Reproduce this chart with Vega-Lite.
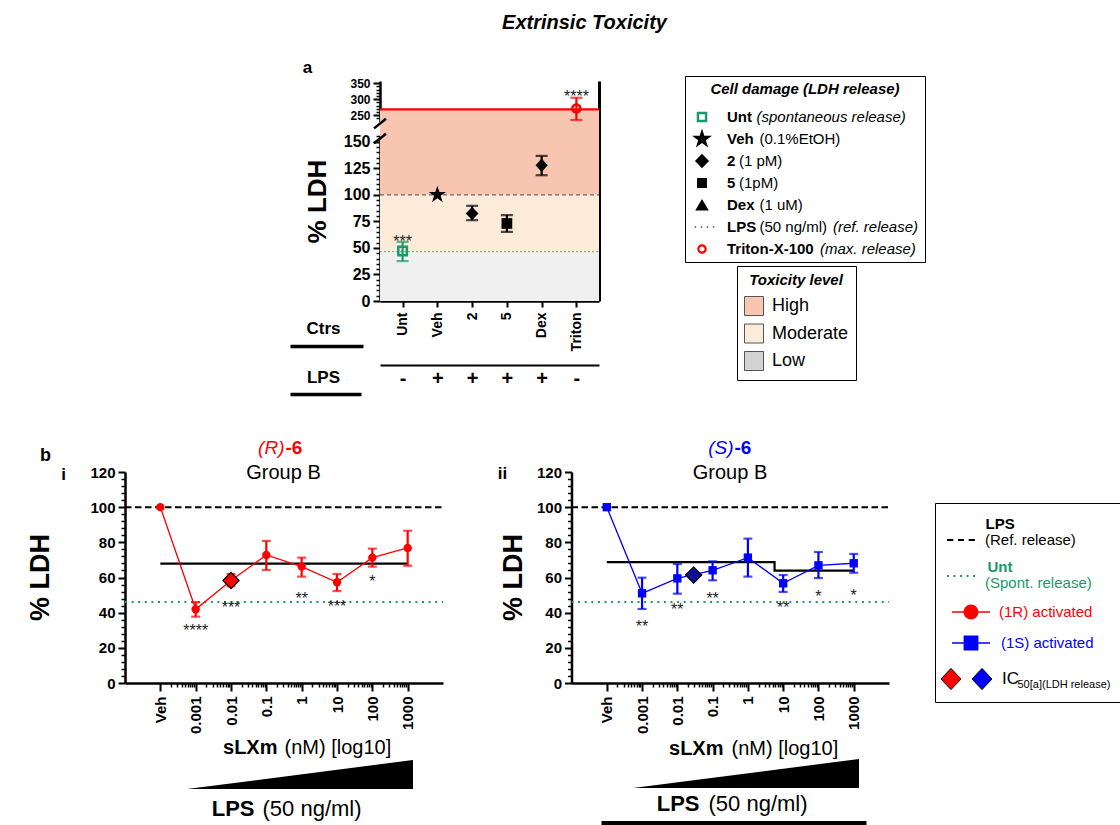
{
"$schema":"https://vega.github.io/schema/vega-lite/v6.json",
"width":1120,"height":825,"autosize":"none","padding":0,"background":"white",
"config":{"font":"Liberation Sans","view":{"stroke":null},
 "axis":{"grid":false,"domainColor":"#000","tickColor":"#000","labelColor":"#000","titleColor":"#000","labelFont":"Liberation Sans","titleFont":"Liberation Sans"},
 "legend":{"labelFont":"Liberation Sans","titleFont":"Liberation Sans","labelColor":"#000","titleColor":"#000","labelLimit":500,"titleLimit":500}},
"datasets":{
 "one":[{}],
 "bandsA":[{"level":"Low","lo":0,"hi":46.4},{"level":"Moderate","lo":46.4,"hi":100},{"level":"High","lo":100,"hi":268.2}],
 "panelA":[{"cat":"Unt","mean":47,"lo":37.6,"hi":55.7,"sig":"***","sigY":64},{"cat":"Veh","mean":100},{"cat":"2","mean":82.4,"lo":76.1,"hi":89.6},{"cat":"5","mean":73,"lo":65.1,"hi":80.8},{"cat":"Dex","mean":127.8,"lo":118.4,"hi":136.6}],
 "triton":[{"cat":"Triton","mean":271,"lo":234.6,"hi":304.5,"sig":"****","sigY":335}],
 "rs6":[{"conc":0.0001,"mean":100},{"conc":0.001,"mean":41.9,"lo":37.7,"hi":46.0,"sig":"****","sigY":34.7},{"conc":0.01,"mean":58.3,"lo":55.0,"hi":62.0,"sig":"***","sigY":48.0},{"conc":0.1,"mean":72.8,"lo":64.3,"hi":80.8},{"conc":1,"mean":66.2,"lo":60.5,"hi":71.3,"sig":"**","sigY":53.0},{"conc":10,"mean":57.3,"lo":52.3,"hi":62.0,"sig":"***","sigY":48.4},{"conc":100,"mean":71.3,"lo":66.2,"hi":76.4,"sig":"*","sigY":62.5},{"conc":1000,"mean":76.8,"lo":66.7,"hi":86.6}],
 "ss6":[{"conc":0.0001,"mean":100},{"conc":0.001,"mean":51.0,"lo":42.1,"hi":59.9,"sig":"**","sigY":36.8},{"conc":0.01,"mean":59.5,"lo":50.8,"hi":67.7,"sig":"**","sigY":46.8},{"conc":0.1,"mean":64.1,"lo":58.4,"hi":69.2,"sig":"**","sigY":52.9},{"conc":1,"mean":71.3,"lo":60.5,"hi":82.1},{"conc":10,"mean":56.7,"lo":51.8,"hi":61.4,"sig":"**","sigY":47.8},{"conc":100,"mean":66.9,"lo":59.7,"hi":74.5,"sig":"*","sigY":53.9},{"conc":1000,"mean":68.1,"lo":62.7,"hi":73.4,"sig":"*","sigY":54.8}],
 "fitR":[{"i":1,"conc":0.0001,"fit":67.9},{"i":2,"conc":1000,"fit":67.9}],
 "fitS":[{"i":1,"conc":0.0001,"fit":68.8},{"i":2,"conc":5.7,"fit":68.8},{"i":3,"conc":5.7,"fit":63.9},{"i":4,"conc":1000,"fit":63.9}],
 "icR":[{"conc":0.01,"ic":58.3}],
 "icS":[{"conc":0.029,"ic":61.4}],
 "wedge":[{"lps":0},{"lps":1}],
 "leg1":[{"entry":"Unt"},{"entry":"Veh"},{"entry":"2"},{"entry":"5"},{"entry":"Dex"},{"entry":"LPS"},{"entry":"Triton-X-100"}],
 "leg2":[{"level":"High"},{"level":"Moderate"},{"level":"Low"}]
},
"layer":[
 {"data":{"name":"bandsA"},"layer":[
  {"mark":{"type":"rect"},"encoding":{
    "x":{"datum":0,"type":"quantitative","scale":{"domain":[0,1],"range":[380,599],"nice":false,"zero":false},"axis":null},
    "x2":{"datum":1},
    "y":{"field":"lo","type":"quantitative","scale":{"domain":[0,156,230,357],"range":[301,135.3,121.5,81],"nice":false,"zero":false},"axis":null},
    "y2":{"field":"hi"},
    "fill":{"field":"level","type":"nominal","scale":{"domain":["High","Moderate","Low"],"range":["#f8c5b1","#fdebd9","#f0f0f0"]},"legend":null}}},
  {"data":{"name":"one"},"mark":{"type":"rule","color":"#666666","strokeWidth":1.2,"strokeDash":[4,3]},"encoding":{"x":{"datum":0,"type":"quantitative","axis":null},"x2":{"datum":1},"y":{"datum":100,"type":"quantitative","axis":null}}},
  {"data":{"name":"one"},"mark":{"type":"rule","color":"#79c279","strokeWidth":1.3,"strokeDash":[2,2]},"encoding":{"x":{"datum":0,"type":"quantitative","axis":null},"x2":{"datum":1},"y":{"datum":46.4,"type":"quantitative","axis":null}}},
  {"data":{"name":"one"},"mark":{"type":"rule","color":"#ff0000","strokeWidth":2.2},"encoding":{"x":{"datum":0,"type":"quantitative","axis":null},"x2":{"datum":1},"y":{"datum":268.2,"type":"quantitative","axis":null}}},
  {"data":{"name":"one"},"mark":{"type":"point","shape":"M-1,0.8L1,-0.8","size":144,"filled":false,"color":"#000","strokeWidth":2.5,"opacity":1},"encoding":{"x":{"datum":0,"type":"quantitative","axis":null},"y":{"datum":219,"type":"quantitative","axis":null}}},
  {"data":{"name":"one"},"mark":{"type":"point","shape":"M-1,0.8L1,-0.8","size":144,"filled":false,"color":"#000","strokeWidth":2.5,"opacity":1},"encoding":{"x":{"datum":0,"type":"quantitative","axis":null},"y":{"datum":153,"type":"quantitative","axis":null}}}
 ]},
 {"data":{"name":"one"},"mark":{"type":"point","opacity":0},"encoding":{"y":{"datum":0,"type":"quantitative","scale":{"domain":[0,1],"range":[301,81]},"axis":{"orient":"right","offset":-521,"domainWidth":3,"ticks":false,"labels":false,"title":null}}}},
 {"data":{"name":"panelA"},"layer":[
  {"mark":{"type":"rule","strokeWidth":2.2},"encoding":{
    "x":{"field":"cat","type":"nominal","scale":{"type":"point","domain":["Unt","Veh","2","5","Dex","Triton"],"range":[380,599],"padding":0.65},"axis":null},
    "y":{"field":"lo","type":"quantitative","scale":{"domain":[0,156],"range":[301,135.3],"nice":false,"zero":false},"axis":null},
    "y2":{"field":"hi"},
    "color":{"field":"cat","type":"nominal","scale":{"domain":["Unt","Veh","2","5","Dex"],"range":["#1a9a6c","#000000","#000000","#000000","#000000"]},"legend":null}}},
  {"mark":{"type":"tick","orient":"horizontal","size":12,"thickness":2.2},"encoding":{"x":{"field":"cat","type":"nominal","axis":null},"y":{"field":"hi","type":"quantitative","axis":null},"color":{"field":"cat","type":"nominal","legend":null}}},
  {"mark":{"type":"tick","orient":"horizontal","size":12,"thickness":2.2},"encoding":{"x":{"field":"cat","type":"nominal","axis":null},"y":{"field":"lo","type":"quantitative","axis":null},"color":{"field":"cat","type":"nominal","legend":null}}},
  {"mark":{"type":"point","filled":true,"size":625,"opacity":1},"encoding":{"x":{"field":"cat","type":"nominal","axis":null},"y":{"field":"mean","type":"quantitative","axis":null},
    "shape":{"field":"cat","type":"nominal","scale":{"domain":["Unt","Veh","2","5","Dex"],"range":["M-0.44,-0.44H0.44V0.44H-0.44Z M-0.24,-0.24V0.24H0.24V-0.24Z","M0,-0.73L0.164,-0.226L0.694,-0.226L0.265,0.086L0.429,0.591L0,0.279L-0.429,0.591L-0.265,0.086L-0.694,-0.226L-0.164,-0.226Z","M0,-0.54L0.5,0L0,0.54L-0.5,0Z","M-0.43,-0.43H0.43V0.43H-0.43Z","M0,-0.54L0.48,0L0,0.54L-0.48,0Z"]},"legend":null},
    "fill":{"field":"cat","type":"nominal","scale":{"domain":["Unt","Veh","2","5","Dex"],"range":["#1a9a6c","#000000","#000000","#000000","#000000"]},"legend":null}}},
  {"mark":{"type":"text","fontSize":16,"dy":9,"color":"#222222"},"encoding":{"x":{"field":"cat","type":"nominal","axis":null},"y":{"field":"sigY","type":"quantitative","axis":null},"text":{"field":"sig"}}}
 ]},
 {"data":{"name":"triton"},"layer":[
  {"mark":{"type":"rule","strokeWidth":2.2,"color":"#ff0000"},"encoding":{
    "x":{"field":"cat","type":"nominal","scale":{"type":"point","domain":["Unt","Veh","2","5","Dex","Triton"],"range":[380,599],"padding":0.65},"axis":null},
    "y":{"field":"lo","type":"quantitative","scale":{"domain":[230,357],"range":[121.5,81],"nice":false,"zero":false},"axis":null},
    "y2":{"field":"hi"}}},
  {"mark":{"type":"tick","orient":"horizontal","size":12,"thickness":2.2,"color":"#ff0000"},"encoding":{"x":{"field":"cat","type":"nominal","axis":null},"y":{"field":"hi","type":"quantitative","axis":null}}},
  {"mark":{"type":"tick","orient":"horizontal","size":12,"thickness":2.2,"color":"#ff0000"},"encoding":{"x":{"field":"cat","type":"nominal","axis":null},"y":{"field":"lo","type":"quantitative","axis":null}}},
  {"mark":{"type":"point","filled":true,"size":625,"opacity":1,"color":"#ff0000","shape":"M-0.42,0A0.42,0.42 0 1,1 0.42,0A0.42,0.42 0 1,1 -0.42,0Z M-0.22,0A0.22,0.22 0 1,0 0.22,0A0.22,0.22 0 1,0 -0.22,0Z"},"encoding":{"x":{"field":"cat","type":"nominal","axis":null},"y":{"field":"mean","type":"quantitative","axis":null}}},
  {"mark":{"type":"text","fontSize":16,"dy":9,"color":"#222222"},"encoding":{"x":{"field":"cat","type":"nominal","axis":null},"y":{"field":"sigY","type":"quantitative","axis":null},"text":{"field":"sig"}}}
 ]},
 {"data":{"name":"one"},"mark":{"type":"point","opacity":0},"encoding":{
   "x":{"datum":"Unt","type":"nominal","scale":{"type":"point","domain":["Unt","Veh","2","5","Dex","Triton"],"range":[380,599],"padding":0.65},"axis":{"orient":"bottom","offset":-524,"tickSize":6,"tickWidth":2,"domainWidth":2.5,"labelAngle":-90,"labelFontSize":14,"labelFontWeight":"bold","labelPadding":5,"title":"Ctrs","titleX":323,"titleY":27,"titleAngle":0,"titleAlign":"center","titleBaseline":"middle","titleFontSize":17,"titleFontWeight":"bold"}},
   "y":{"datum":0,"type":"quantitative","scale":{"domain":[0,156],"range":[301,135.3],"nice":false,"zero":false},"axis":{"orient":"left","offset":-380,"values":[0,25,50,75,100,125,150],"tickSize":7,"tickWidth":2,"domainWidth":2.5,"labelFontSize":16,"labelFontWeight":"bold","labelPadding":3,"title":"% LDH","titleX":-63,"titleY":201,"titleAngle":-90,"titleAlign":"center","titleBaseline":"middle","titleFontSize":26,"titleFontWeight":"bold"}}}},
 {"data":{"name":"one"},"mark":{"type":"point","opacity":0},"encoding":{
   "x":{"datum":"Unt","type":"nominal","scale":{"type":"point","domain":["Unt","Veh","2","5","Dex","Triton"],"range":[380,599],"padding":0.65},"axis":{"orient":"bottom","offset":-460,"ticks":false,"domainWidth":2,"labelAngle":0,"labelFontSize":20,"labelFontWeight":"bold","labelPadding":3,"labelExpr":"datum.value == 'Unt' || datum.value == 'Triton' ? '-' : '+'","title":"LPS","titleX":323,"titleY":12,"titleAngle":0,"titleAlign":"center","titleBaseline":"middle","titleFontSize":17,"titleFontWeight":"bold"}},
   "y":{"datum":250,"type":"quantitative","scale":{"domain":[230,357],"range":[121.5,81],"nice":false,"zero":false},"axis":{"orient":"left","offset":-380,"values":[250,300,350],"tickSize":7,"tickWidth":2,"domainWidth":2.5,"labelFontSize":12,"labelFontWeight":"bold","labelPadding":3,"title":"a","titleX":-73,"titleY":67,"titleAngle":0,"titleAlign":"center","titleBaseline":"middle","titleFontSize":17,"titleFontWeight":"bold"}}}},
 {"data":{"name":"one"},"mark":{"type":"point","opacity":0},"encoding":{"y":{"datum":0,"type":"quantitative","scale":{"domain":[0,156],"range":[301,135.3],"nice":false,"zero":false},"axis":{"orient":"left","offset":-380,"values":[5,10,15,20,30,35,40,45,55,60,65,70,80,85,90,95,105,110,115,120,130,135,140,145,155],"tickSize":4,"tickWidth":1.5,"domain":false,"labels":false,"title":"b","titleX":-335,"titleY":455,"titleAngle":0,"titleAlign":"center","titleBaseline":"middle","titleFontSize":18,"titleFontWeight":"bold"}}}},
 {"data":{"name":"one"},"mark":{"type":"point","opacity":0},"encoding":{"y":{"datum":250,"type":"quantitative","scale":{"domain":[230,357],"range":[121.5,81],"nice":false,"zero":false},"axis":{"orient":"left","offset":-380,"values":[240,260,270,280,290,310,320,330,340],"tickSize":4,"tickWidth":1.5,"domain":false,"labels":false,"title":"Extrinsic Toxicity","titleX":204,"titleY":22,"titleAngle":0,"titleAlign":"center","titleBaseline":"middle","titleFontSize":20,"titleFontWeight":"bold","titleFontStyle":"italic"}}}},
 {"data":{"name":"one"},"mark":{"type":"point","opacity":0},"encoding":{"x":{"datum":0,"type":"quantitative","scale":{"domain":[0,1],"range":[290,363]},"axis":{"orient":"top","offset":-346,"domainWidth":3.5,"ticks":false,"labels":false,"title":null}}}},
 {"data":{"name":"one"},"mark":{"type":"point","opacity":0},"encoding":{"x":{"datum":0,"type":"quantitative","scale":{"domain":[0,1],"range":[290,361]},"axis":{"orient":"top","offset":-394,"domainWidth":3.5,"ticks":false,"labels":false,"title":null}}}},
 {"data":{"values":[{"k":"\u200b"}]},"mark":{"type":"point","filled":true,"opacity":0,"fill":"#ffffff"},"encoding":{
   "shape":{"field":"k","type":"nominal","scale":{"domain":["\u200b"],"range":["M0,0"]},
     "legend":{"orient":"none","legendX":685,"legendY":76,"padding":6,"strokeColor":"#000","title":"Cell damage (LDH release)","titleFontSize":15,"titleFontWeight":"bold","titleFontStyle":"italic","titleAnchor":"middle","titlePadding":9,"labelFontSize":1,"labelOffset":0,"symbolSize":51984,"symbolStrokeWidth":0,"symbolOpacity":0,"clipHeight":150}}}},
 {"data":{"name":"leg1"},"mark":{"type":"point","filled":true,"opacity":0},"encoding":{
   "shape":{"field":"entry","type":"nominal","scale":{"domain":["Unt","Veh","2","5","Dex","LPS","Triton-X-100"],"range":["M-0.48,-0.48H0.48V0.48H-0.48Z M-0.26,-0.26V0.26H0.26V-0.26Z","M0,-0.95L0.213,-0.294L0.904,-0.294L0.345,0.112L0.558,0.769L0,0.363L-0.558,0.769L-0.345,0.112L-0.904,-0.294L-0.213,-0.294Z","M0,-0.66L0.64,0L0,0.66L-0.64,0Z","M-0.45,-0.45H0.45V0.45H-0.45Z","M0,-0.55L0.62,0.5L-0.62,0.5Z","M-1.22,-0.07h0.14v0.14h-0.14Z M-0.67,-0.07h0.14v0.14h-0.14Z M-0.12,-0.07h0.14v0.14h-0.14Z M0.43,-0.07h0.14v0.14h-0.14Z M0.98,-0.07h0.14v0.14h-0.14Z","M-0.43,0A0.43,0.43 0 1,1 0.43,0A0.43,0.43 0 1,1 -0.43,0Z M-0.23,0A0.23,0.23 0 1,0 0.23,0A0.23,0.23 0 1,0 -0.23,0Z"]},
     "legend":{"orient":"none","legendX":691,"legendY":106.25,"padding":0,"title":null,"labelFontSize":15,"labelFontWeight":"bold","labelOffset":14,"symbolSize":484,"symbolStrokeWidth":0,"symbolOpacity":1,"clipHeight":21.5,"rowPadding":0}},
   "fill":{"field":"entry","type":"nominal","scale":{"domain":["Unt","Veh","2","5","Dex","LPS","Triton-X-100"],"range":["#1a9a6c","#000000","#000000","#000000","#000000","#555555","#ff0000"]},
     "legend":{"orient":"none","legendX":691,"legendY":106.25,"padding":0,"title":null,"labelFontSize":15,"labelFontWeight":"bold","labelOffset":14,"symbolSize":484,"symbolStrokeWidth":0,"symbolOpacity":1,"clipHeight":21.5,"rowPadding":0}}}},
 {"data":{"values":[{"entry":"Veh"}]},"mark":{"type":"point","filled":true,"opacity":0},"encoding":{
   "shape":{"field":"entry","type":"nominal","scale":{"domain":["Veh"],"range":["M0,0"]},
     "legend":{"orient":"none","legendX":723.5,"legendY":128.25,"padding":0,"title":null,"labelFontSize":15,"labelOffset":14,"symbolSize":484,"symbolStrokeWidth":0,"symbolOpacity":0,"clipHeight":21.5,"rowPadding":0,"labelExpr":"'(0.1%EtOH)'"}}}},
 {"data":{"values":[{"entry":"2"},{"entry":"5"}]},"mark":{"type":"point","filled":true,"opacity":0},"encoding":{
   "shape":{"field":"entry","type":"nominal","scale":{"domain":["2","5"],"range":["M0,0","M0,0"]},
     "legend":{"orient":"none","legendX":703,"legendY":150.25,"padding":0,"title":null,"labelFontSize":15,"labelOffset":14,"symbolSize":484,"symbolStrokeWidth":0,"symbolOpacity":0,"clipHeight":21.5,"rowPadding":0,"labelExpr":"datum.label == '2' ? '(1 pM)' : '(1pM)'"}}}},
 {"data":{"values":[{"entry":"Dex"},{"entry":"LPS"}]},"mark":{"type":"point","filled":true,"opacity":0},"encoding":{
   "shape":{"field":"entry","type":"nominal","scale":{"domain":["Dex","LPS"],"range":["M0,0","M0,0"]},
     "legend":{"orient":"none","legendX":723.5,"legendY":194.25,"padding":0,"title":null,"labelFontSize":15,"labelOffset":14,"symbolSize":484,"symbolStrokeWidth":0,"symbolOpacity":0,"clipHeight":21.5,"rowPadding":0,"labelExpr":"datum.label == 'Dex' ? '(1 uM)' : '(50 ng/ml)'"}}}},
 {"data":{"values":[{"entry":"Unt"}]},"mark":{"type":"point","filled":true,"opacity":0},"encoding":{
   "shape":{"field":"entry","type":"nominal","scale":{"domain":["Unt"],"range":["M0,0"]},
     "legend":{"orient":"none","legendX":720.5,"legendY":106.25,"padding":0,"title":null,"labelFontSize":15,"labelFontStyle":"italic","labelOffset":14,"symbolSize":484,"symbolStrokeWidth":0,"symbolOpacity":0,"clipHeight":21.5,"rowPadding":0,"labelExpr":"'(spontaneous release)'"}}}},
 {"data":{"values":[{"entry":"LPS"}]},"mark":{"type":"point","filled":true,"opacity":0},"encoding":{
   "shape":{"field":"entry","type":"nominal","scale":{"domain":["LPS"],"range":["M0,0"]},
     "legend":{"orient":"none","legendX":797,"legendY":216.25,"padding":0,"title":null,"labelFontSize":15,"labelFontStyle":"italic","labelOffset":14,"symbolSize":484,"symbolStrokeWidth":0,"symbolOpacity":0,"clipHeight":21.5,"rowPadding":0,"labelExpr":"'(ref. release)'"}}}},
 {"data":{"values":[{"entry":"Triton-X-100"}]},"mark":{"type":"point","filled":true,"opacity":0},"encoding":{
   "shape":{"field":"entry","type":"nominal","scale":{"domain":["Triton-X-100"],"range":["M0,0"]},
     "legend":{"orient":"none","legendX":784,"legendY":238.25,"padding":0,"title":null,"labelFontSize":15,"labelFontStyle":"italic","labelOffset":14,"symbolSize":484,"symbolStrokeWidth":0,"symbolOpacity":0,"clipHeight":21.5,"rowPadding":0,"labelExpr":"'(max. release)'"}}}},
 {"data":{"name":"leg2"},"mark":{"type":"point","filled":true,"opacity":0},"encoding":{
   "fill":{"field":"level","type":"nominal","scale":{"domain":["High","Moderate","Low"],"range":["#f8c5b1","#fdebd9","#d3d3d3"]},
     "legend":{"orient":"none","legendX":737,"legendY":266,"padding":7,"strokeColor":"#000","title":"Toxicity level","titleFontSize":15,"titleFontWeight":"bold","titleFontStyle":"italic","titleAnchor":"middle","titlePadding":8,"labelFontSize":18,"labelOffset":8,"symbolType":"square","symbolSize":361,"symbolStrokeColor":"#555555","symbolStrokeWidth":1,"symbolOpacity":1,"rowPadding":3.5}}}},
 {"data":{"name":"rs6"},"layer":[
  {"data":{"name":"one"},"mark":{"type":"rule","color":"#000","strokeWidth":2,"strokeDash":[6.5,3.5]},"encoding":{
    "x":{"datum":0.00001,"type":"quantitative","scale":{"type":"log","domain":[0.00001,10000],"range":[125,443],"nice":false},"axis":null},
    "x2":{"datum":10000},
    "y":{"datum":100,"type":"quantitative","scale":{"domain":[0,120],"range":[683,472],"nice":false,"zero":false},"axis":null}}},
  {"data":{"name":"one"},"mark":{"type":"rule","color":"#1a9a6c","strokeWidth":2,"strokeDash":[2,4.6]},"encoding":{"x":{"datum":0.00001,"type":"quantitative","axis":null},"x2":{"datum":10000},"y":{"datum":46,"type":"quantitative","axis":null}}},
  {"data":{"name":"fitR"},"mark":{"type":"line","color":"#000","strokeWidth":2.2},"encoding":{"x":{"field":"conc","type":"quantitative","axis":null},"y":{"field":"fit","type":"quantitative","axis":null},"order":{"field":"i","type":"quantitative"}}},
  {"mark":{"type":"line","color":"#ff0000","strokeWidth":1.3},"encoding":{"x":{"field":"conc","type":"quantitative","axis":null},"y":{"field":"mean","type":"quantitative","axis":null}}},
  {"mark":{"type":"rule","color":"#ff0000","strokeWidth":2.2},"encoding":{"x":{"field":"conc","type":"quantitative","axis":null},"y":{"field":"lo","type":"quantitative","axis":null},"y2":{"field":"hi"}}},
  {"mark":{"type":"tick","orient":"horizontal","size":9,"thickness":2.2,"color":"#ff0000"},"encoding":{"x":{"field":"conc","type":"quantitative","axis":null},"y":{"field":"hi","type":"quantitative","axis":null}}},
  {"mark":{"type":"tick","orient":"horizontal","size":9,"thickness":2.2,"color":"#ff0000"},"encoding":{"x":{"field":"conc","type":"quantitative","axis":null},"y":{"field":"lo","type":"quantitative","axis":null}}},
  {"mark":{"type":"point","filled":true,"shape":"circle","size":70,"color":"#ff0000","opacity":1},"encoding":{"x":{"field":"conc","type":"quantitative","axis":null},"y":{"field":"mean","type":"quantitative","axis":null}}},
  {"data":{"name":"icR"},"mark":{"type":"point","filled":true,"shape":"diamond","size":260,"fill":"#ff0000","stroke":"#000","strokeWidth":1.2,"opacity":1},"encoding":{"x":{"field":"conc","type":"quantitative","axis":null},"y":{"field":"ic","type":"quantitative","axis":null}}},
  {"mark":{"type":"text","fontSize":16,"dy":9,"color":"#222222"},"encoding":{"x":{"field":"conc","type":"quantitative","axis":null},"y":{"field":"sigY","type":"quantitative","axis":null},"text":{"field":"sig"}}}
 ]},
 {"data":{"name":"one"},"mark":{"type":"point","opacity":0},"encoding":{
   "x":{"datum":1,"type":"quantitative","scale":{"type":"log","domain":[0.00001,10000],"range":[125,443],"nice":false},"axis":{"orient":"bottom","offset":-142,"values":[0.0001,0.001,0.01,0.1,1,10,100,1000],"tickSize":8,"tickWidth":2,"domainWidth":2.5,"labelAngle":-90,"labelFontSize":15,"labelFontWeight":"bold","labelPadding":5,"labelExpr":"datum.value < 0.0005 ? 'Veh' : format(datum.value, '')","title":"sLXm","titleX":277,"titleY":64,"titleAngle":0,"titleAlign":"right","titleBaseline":"middle","titleFontSize":20,"titleFontWeight":"bold"}},
   "y":{"datum":0,"type":"quantitative","scale":{"domain":[0,120],"range":[683,472],"nice":false,"zero":false},"axis":{"orient":"left","offset":-125,"values":[0,20,40,60,80,100,120],"tickSize":7,"tickWidth":2,"domainWidth":2.5,"labelFontSize":15,"labelFontWeight":"bold","labelPadding":3,"title":"% LDH","titleX":-85,"titleY":577,"titleAngle":-90,"titleAlign":"center","titleBaseline":"middle","titleFontSize":27,"titleFontWeight":"bold"}}}},
 {"data":{"name":"one"},"mark":{"type":"point","opacity":0},"encoding":{
   "x":{"datum":1,"type":"quantitative","scale":{"type":"log","domain":[0.00001,10000],"range":[125,443],"nice":false},"axis":{"orient":"bottom","offset":-142,"values":[0.0002,0.0003,0.0004,0.0005,0.0006,0.0007,0.0008,0.0009,0.002,0.003,0.004,0.005,0.006,0.007,0.008,0.009,0.02,0.03,0.04,0.05,0.06,0.07,0.08,0.09,0.2,0.3,0.4,0.5,0.6,0.7,0.8,0.9,2,3,4,5,6,7,8,9,20,30,40,50,60,70,80,90,200,300,400,500,600,700,800,900],"tickSize":4,"tickWidth":1.5,"domain":false,"labels":false,"title":"(nM) [log10]","titleX":284,"titleY":64,"titleAngle":0,"titleAlign":"left","titleBaseline":"middle","titleFontSize":20,"titleFontWeight":"normal"}},
   "y":{"datum":0,"type":"quantitative","scale":{"domain":[0,120],"range":[683,472],"nice":false,"zero":false},"axis":{"orient":"left","offset":-125,"values":[4,8,12,16,24,28,32,36,44,48,52,56,64,68,72,76,84,88,92,96,104,108,112,116],"tickSize":4,"tickWidth":1.5,"domain":false,"labels":false,"title":"i","titleX":-62,"titleY":474,"titleAngle":0,"titleAlign":"center","titleBaseline":"middle","titleFontSize":17,"titleFontWeight":"bold"}}}},
 {"data":{"name":"wedge"},"mark":{"type":"area","color":"#000","opacity":1},"encoding":{
   "x":{"field":"lps","type":"quantitative","scale":{"domain":[0,1],"range":[187,413],"nice":false,"zero":false},"axis":{"orient":"top","offset":0,"domain":false,"ticks":false,"labels":false,"title":"LPS","titleX":254,"titleY":808,"titleAngle":0,"titleAlign":"right","titleBaseline":"middle","titleFontSize":22,"titleFontWeight":"bold"}},
   "y":{"field":"lps","type":"quantitative","scale":{"domain":[0,1],"range":[789,760],"nice":false,"zero":false},"axis":{"orient":"left","offset":0,"domain":false,"ticks":false,"labels":false,"title":"(50 ng/ml)","titleX":262,"titleY":808,"titleAngle":0,"titleAlign":"left","titleBaseline":"middle","titleFontSize":22,"titleFontWeight":"normal"}},
   "y2":{"datum":0}}},
 {"data":{"name":"one"},"mark":{"type":"point","opacity":0},"encoding":{
   "x":{"datum":0,"type":"quantitative","scale":{"domain":[0,1],"range":[0,1]},"axis":{"orient":"top","offset":0,"domain":false,"ticks":false,"labels":false,"title":"(R)","titleX":284,"titleY":447,"titleAngle":0,"titleAlign":"right","titleBaseline":"middle","titleFontSize":19,"titleFontWeight":"normal","titleFontStyle":"italic","titleColor":"#ff0000"}},
   "y":{"datum":0,"type":"quantitative","scale":{"domain":[0,1],"range":[0,1]},"axis":{"orient":"left","offset":0,"domain":false,"ticks":false,"labels":false,"title":"-6","titleX":285,"titleY":447,"titleAngle":0,"titleAlign":"left","titleBaseline":"middle","titleFontSize":19,"titleFontWeight":"bold","titleColor":"#ff0000"}}}},
 {"data":{"name":"ss6"},"layer":[
  {"data":{"name":"one"},"mark":{"type":"rule","color":"#000","strokeWidth":2,"strokeDash":[6.5,3.5]},"encoding":{
    "x":{"datum":0.00001,"type":"quantitative","scale":{"type":"log","domain":[0.00001,10000],"range":[571.5,889],"nice":false},"axis":null},
    "x2":{"datum":10000},
    "y":{"datum":100,"type":"quantitative","scale":{"domain":[0,120],"range":[683,472],"nice":false,"zero":false},"axis":null}}},
  {"data":{"name":"one"},"mark":{"type":"rule","color":"#1a9a6c","strokeWidth":2,"strokeDash":[2,4.6]},"encoding":{"x":{"datum":0.00001,"type":"quantitative","axis":null},"x2":{"datum":10000},"y":{"datum":46,"type":"quantitative","axis":null}}},
  {"data":{"name":"fitS"},"mark":{"type":"line","color":"#000","strokeWidth":2.2},"encoding":{"x":{"field":"conc","type":"quantitative","axis":null},"y":{"field":"fit","type":"quantitative","axis":null},"order":{"field":"i","type":"quantitative"}}},
  {"mark":{"type":"line","color":"#0000ff","strokeWidth":1.3},"encoding":{"x":{"field":"conc","type":"quantitative","axis":null},"y":{"field":"mean","type":"quantitative","axis":null}}},
  {"mark":{"type":"rule","color":"#0000ff","strokeWidth":2.2},"encoding":{"x":{"field":"conc","type":"quantitative","axis":null},"y":{"field":"lo","type":"quantitative","axis":null},"y2":{"field":"hi"}}},
  {"mark":{"type":"tick","orient":"horizontal","size":9,"thickness":2.2,"color":"#0000ff"},"encoding":{"x":{"field":"conc","type":"quantitative","axis":null},"y":{"field":"hi","type":"quantitative","axis":null}}},
  {"mark":{"type":"tick","orient":"horizontal","size":9,"thickness":2.2,"color":"#0000ff"},"encoding":{"x":{"field":"conc","type":"quantitative","axis":null},"y":{"field":"lo","type":"quantitative","axis":null}}},
  {"mark":{"type":"point","filled":true,"shape":"square","size":70,"color":"#0000ff","opacity":1},"encoding":{"x":{"field":"conc","type":"quantitative","axis":null},"y":{"field":"mean","type":"quantitative","axis":null}}},
  {"data":{"name":"icS"},"mark":{"type":"point","filled":true,"shape":"diamond","size":260,"fill":"#10109a","stroke":"#000","strokeWidth":1.2,"opacity":1},"encoding":{"x":{"field":"conc","type":"quantitative","axis":null},"y":{"field":"ic","type":"quantitative","axis":null}}},
  {"mark":{"type":"text","fontSize":16,"dy":9,"color":"#222222"},"encoding":{"x":{"field":"conc","type":"quantitative","axis":null},"y":{"field":"sigY","type":"quantitative","axis":null},"text":{"field":"sig"}}}
 ]},
 {"data":{"name":"one"},"mark":{"type":"point","opacity":0},"encoding":{
   "x":{"datum":1,"type":"quantitative","scale":{"type":"log","domain":[0.00001,10000],"range":[571.5,889],"nice":false},"axis":{"orient":"bottom","offset":-142,"values":[0.0001,0.001,0.01,0.1,1,10,100,1000],"tickSize":8,"tickWidth":2,"domainWidth":2.5,"labelAngle":-90,"labelFontSize":15,"labelFontWeight":"bold","labelPadding":5,"labelExpr":"datum.value < 0.0005 ? 'Veh' : format(datum.value, '')","title":"sLXm","titleX":723,"titleY":65,"titleAngle":0,"titleAlign":"right","titleBaseline":"middle","titleFontSize":20,"titleFontWeight":"bold"}},
   "y":{"datum":0,"type":"quantitative","scale":{"domain":[0,120],"range":[683,472],"nice":false,"zero":false},"axis":{"orient":"left","offset":-571.5,"values":[0,20,40,60,80,100,120],"tickSize":7,"tickWidth":2,"domainWidth":2.5,"labelFontSize":15,"labelFontWeight":"bold","labelPadding":3,"title":"% LDH","titleX":-58.5,"titleY":577,"titleAngle":-90,"titleAlign":"center","titleBaseline":"middle","titleFontSize":27,"titleFontWeight":"bold"}}}},
 {"data":{"name":"one"},"mark":{"type":"point","opacity":0},"encoding":{
   "x":{"datum":1,"type":"quantitative","scale":{"type":"log","domain":[0.00001,10000],"range":[571.5,889],"nice":false},"axis":{"orient":"bottom","offset":-142,"values":[0.0002,0.0003,0.0004,0.0005,0.0006,0.0007,0.0008,0.0009,0.002,0.003,0.004,0.005,0.006,0.007,0.008,0.009,0.02,0.03,0.04,0.05,0.06,0.07,0.08,0.09,0.2,0.3,0.4,0.5,0.6,0.7,0.8,0.9,2,3,4,5,6,7,8,9,20,30,40,50,60,70,80,90,200,300,400,500,600,700,800,900],"tickSize":4,"tickWidth":1.5,"domain":false,"labels":false,"title":"(nM) [log10]","titleX":731,"titleY":65,"titleAngle":0,"titleAlign":"left","titleBaseline":"middle","titleFontSize":20,"titleFontWeight":"normal"}},
   "y":{"datum":0,"type":"quantitative","scale":{"domain":[0,120],"range":[683,472],"nice":false,"zero":false},"axis":{"orient":"left","offset":-571.5,"values":[4,8,12,16,24,28,32,36,44,48,52,56,64,68,72,76,84,88,92,96,104,108,112,116],"tickSize":4,"tickWidth":1.5,"domain":false,"labels":false,"title":"ii","titleX":-69.5,"titleY":473,"titleAngle":0,"titleAlign":"center","titleBaseline":"middle","titleFontSize":17,"titleFontWeight":"bold"}}}},
 {"data":{"name":"wedge"},"mark":{"type":"area","color":"#000","opacity":1},"encoding":{
   "x":{"field":"lps","type":"quantitative","scale":{"domain":[0,1],"range":[633,859],"nice":false,"zero":false},"axis":{"orient":"top","offset":0,"domain":false,"ticks":false,"labels":false,"title":"LPS","titleX":699,"titleY":803,"titleAngle":0,"titleAlign":"right","titleBaseline":"middle","titleFontSize":22,"titleFontWeight":"bold"}},
   "y":{"field":"lps","type":"quantitative","scale":{"domain":[0,1],"range":[788,759],"nice":false,"zero":false},"axis":{"orient":"left","offset":0,"domain":false,"ticks":false,"labels":false,"title":"(50 ng/ml)","titleX":708,"titleY":803,"titleAngle":0,"titleAlign":"left","titleBaseline":"middle","titleFontSize":22,"titleFontWeight":"normal"}},
   "y2":{"datum":0}}},
 {"data":{"name":"one"},"mark":{"type":"point","opacity":0},"encoding":{
   "x":{"datum":0,"type":"quantitative","scale":{"domain":[0,1],"range":[0,1]},"axis":{"orient":"top","offset":0,"domain":false,"ticks":false,"labels":false,"title":"(S)","titleX":733,"titleY":447,"titleAngle":0,"titleAlign":"right","titleBaseline":"middle","titleFontSize":19,"titleFontWeight":"normal","titleFontStyle":"italic","titleColor":"#0000ff"}},
   "y":{"datum":0,"type":"quantitative","scale":{"domain":[0,1],"range":[0,1]},"axis":{"orient":"left","offset":0,"domain":false,"ticks":false,"labels":false,"title":"-6","titleX":734,"titleY":447,"titleAngle":0,"titleAlign":"left","titleBaseline":"middle","titleFontSize":19,"titleFontWeight":"bold","titleColor":"#0000ff"}}}},
 {"data":{"name":"one"},"mark":{"type":"point","opacity":0},"encoding":{
   "x":{"datum":0,"type":"quantitative","scale":{"domain":[0,1],"range":[0,1]},"axis":{"orient":"top","offset":0,"domain":false,"ticks":false,"labels":false,"title":"Group B","titleX":283,"titleY":472,"titleAngle":0,"titleAlign":"center","titleBaseline":"middle","titleFontSize":20,"titleFontWeight":"normal"}},
   "y":{"datum":0,"type":"quantitative","scale":{"domain":[0,1],"range":[0,1]},"axis":{"orient":"left","offset":0,"domain":false,"ticks":false,"labels":false,"title":"Group B","titleX":729.5,"titleY":472,"titleAngle":0,"titleAlign":"center","titleBaseline":"middle","titleFontSize":20,"titleFontWeight":"normal"}}}},
 {"data":{"name":"one"},"mark":{"type":"point","opacity":0},"encoding":{
   "x":{"datum":0,"type":"quantitative","scale":{"domain":[0,1],"range":[601,866]},"axis":{"orient":"top","offset":-822.5,"domainWidth":4,"ticks":false,"labels":false,"title":null}},
   "y":{"datum":0,"type":"quantitative","scale":{"domain":[0,1],"range":[0,1]},"axis":{"orient":"left","offset":0,"domain":false,"ticks":false,"labels":false,"title":"50[a](LDH release)","titleX":1017,"titleY":684,"titleAngle":0,"titleAlign":"left","titleBaseline":"middle","titleFontSize":11,"titleFontWeight":"normal"}}}},
 {"data":{"values":[{"k":"\u200b"}]},"mark":{"type":"point","filled":true,"opacity":0,"fill":"#ffffff"},"encoding":{
   "shape":{"field":"k","type":"nominal","scale":{"domain":["\u200b"],"range":["M0,0L0,0Z"]},"legend":{"orient":"none","legendX":935,"legendY":503,"padding":99,"strokeColor":"#000","title":null,"labelFontSize":1,"labelOffset":0,"symbolSize":1,"symbolStrokeWidth":0,"symbolOpacity":0,"clipHeight":1}},
   "x":{"datum":0,"type":"quantitative","scale":{"domain":[0,1],"range":[0,1]},"axis":{"orient":"top","offset":0,"domain":false,"ticks":false,"labels":false,"title":"LPS","titleX":985,"titleY":523,"titleAngle":0,"titleAlign":"left","titleBaseline":"middle","titleFontSize":15,"titleFontWeight":"bold"}},
   "y":{"datum":0,"type":"quantitative","scale":{"domain":[0,1],"range":[0,1]},"axis":{"orient":"left","offset":0,"domain":false,"ticks":false,"labels":false,"title":"Unt","titleX":987,"titleY":566,"titleAngle":0,"titleAlign":"left","titleBaseline":"middle","titleFontSize":15,"titleFontWeight":"bold","titleColor":"#1a9a6c"}}}},
 {"data":{"values":[{"k":"(Ref. release)"}]},"mark":{"type":"point","filled":true,"opacity":0,"fill":"#000000"},"encoding":{
   "shape":{"field":"k","type":"nominal","scale":{"domain":["(Ref. release)"],"range":["M-1,-0.07H-0.55V0.07H-1Z M-0.22,-0.07H0.22V0.07H-0.22Z M0.55,-0.07H1V0.07H0.55Z"]},"legend":{"orient":"none","legendX":947,"legendY":530,"padding":0,"title":null,"labelFontSize":15,"labelColor":"#000","labelOffset":10,"labelBaseline":"middle","symbolSize":784,"symbolStrokeWidth":0,"symbolOpacity":1,"clipHeight":20}}}},
 {"data":{"values":[{"k":"(Spont. release)"}]},"mark":{"type":"point","filled":true,"opacity":0,"fill":"#1a9a6c"},"encoding":{
   "shape":{"field":"k","type":"nominal","scale":{"domain":["(Spont. release)"],"range":["M-1,-0.07h0.14v0.14h-0.14Z M-0.54,-0.07h0.14v0.14h-0.14Z M-0.07,-0.07h0.14v0.14h-0.14Z M0.4,-0.07h0.14v0.14h-0.14Z M0.86,-0.07h0.14v0.14h-0.14Z"]},"legend":{"orient":"none","legendX":947,"legendY":566,"padding":0,"title":null,"labelFontSize":15,"labelColor":"#1a9a6c","labelOffset":10,"labelBaseline":"top","symbolSize":784,"symbolStrokeWidth":0,"symbolOpacity":1,"clipHeight":20}}}},
 {"data":{"values":[{"k":"(1R) activated"}]},"mark":{"type":"point","filled":true,"opacity":0,"fill":"#ff0000"},"encoding":{
   "shape":{"field":"k","type":"nominal","scale":{"domain":["(1R) activated"],"range":["M-1,-0.042H1V0.042H-1Z M-0.39,0A0.39,0.39 0 1,1 0.39,0A0.39,0.39 0 1,1 -0.39,0Z"]},"legend":{"orient":"none","legendX":952,"legendY":602,"padding":0,"title":null,"labelFontSize":15,"labelColor":"#ff0000","labelOffset":9,"labelBaseline":"middle","symbolSize":1444,"symbolStrokeWidth":0,"symbolOpacity":1,"clipHeight":20}}}},
 {"data":{"values":[{"k":"(1S) activated"}]},"mark":{"type":"point","filled":true,"opacity":0,"fill":"#0000ff"},"encoding":{
   "shape":{"field":"k","type":"nominal","scale":{"domain":["(1S) activated"],"range":["M-1,-0.042H1V0.042H-1Z M-0.39,-0.39H0.39V0.39H-0.39Z"]},"legend":{"orient":"none","legendX":952,"legendY":633,"padding":0,"title":null,"labelFontSize":15,"labelColor":"#0000ff","labelOffset":11,"labelBaseline":"middle","symbolSize":1444,"symbolStrokeWidth":0,"symbolOpacity":1,"clipHeight":20}}}},
 {"data":{"values":[{"k":"IC"}]},"mark":{"type":"point","filled":true,"opacity":0,"fill":"#0000ff","stroke":"#000000","strokeWidth":1},"encoding":{
   "shape":{"field":"k","type":"nominal","scale":{"domain":["IC"],"range":["M0.585,-0.4L0.962,0L0.585,0.4L0.208,0Z"]},"legend":{"orient":"none","legendX":939.5,"legendY":667,"padding":0,"title":null,"labelFontSize":17,"labelColor":"#000","labelOffset":8.5,"labelBaseline":"middle","symbolSize":2809,"symbolStrokeWidth":1,"symbolOpacity":1,"clipHeight":24}}}},
 {"data":{"values":[{"k":"\u200b"}]},"mark":{"type":"point","filled":true,"opacity":0,"fill":"#ff0000","stroke":"#000000","strokeWidth":1},"encoding":{
   "shape":{"field":"k","type":"nominal","scale":{"domain":["\u200b"],"range":["M-0.585,-0.4L-0.208,0L-0.585,0.4L-0.962,0Z"]},"legend":{"orient":"none","legendX":939.5,"legendY":667,"padding":0,"title":null,"labelFontSize":17,"labelColor":"#000","labelOffset":8.5,"labelBaseline":"middle","symbolSize":2809,"symbolStrokeWidth":1,"symbolOpacity":1,"clipHeight":24}}}}
],
"resolve":{"scale":{"x":"independent","y":"independent","color":"independent","fill":"independent","shape":"independent"},"axis":{"x":"independent","y":"independent"},"legend":{"fill":"independent","shape":"independent","color":"independent"}}
}
